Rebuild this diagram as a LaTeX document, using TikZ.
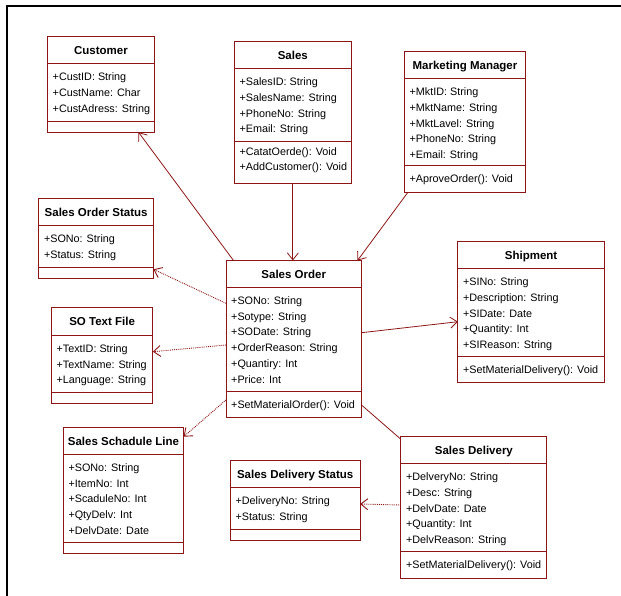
\documentclass[tikz,border=0pt]{standalone}
\usepackage{fontspec}
\setmainfont{Liberation Sans}
\usetikzlibrary{arrows.meta,calc}

\definecolor{umlred}{RGB}{140,22,22}

\tikzset{
  classbox/.style={draw=umlred, line width=0.9pt, fill=white, inner sep=0pt, outer sep=0pt},
  classrule/.style={draw=umlred, line width=0.9pt},
  classtitle/.style={font=\fontsize{11.5}{13}\selectfont\bfseries, inner sep=0pt, anchor=base},
  members/.style={font=\fontsize{10.8}{15.7}\selectfont, align=left, inner sep=0pt,
                  anchor=north west, execute at begin node={\strut}},
  assoc/.style={draw=umlred, line width=0.8pt, -{Straight Barb[length=7pt,width=11pt]}},
  link/.style={draw=umlred, line width=0.8pt},
  depend/.style={draw=umlred, line width=0.9pt, densely dotted, -{Straight Barb[length=7pt,width=11pt]}},
  frameline/.style={draw=black, line width=2.8pt},
}

% #1 name, #2 top-left corner, #3 width, #4 height,
% #5 depth of the title rule, #6 depth of the operations rule,
% #7 class name, #8 attributes, #9 operations
\newcommand{\umlclass}[9]{%
  \node[classbox, minimum width=#3pt, minimum height=#4pt, anchor=north west] (#1) at #2 {};
  \draw[classrule] ([yshift=-#5pt]#1.north west) -- ([yshift=-#5pt]#1.north east);
  \draw[classrule] ([yshift=-#6pt]#1.north west) -- ([yshift=-#6pt]#1.north east);
  \node[classtitle] (#1-title) at ([yshift={-#5pt/2-4.5pt}]#1.north) {#7};
  \node[members] (#1-attr) at ([xshift=5pt, yshift={-#5pt-9.5pt}]#1.north west) {#8};
  \node[members] (#1-ops) at ([xshift=5pt, yshift={-#6pt-6pt}]#1.north west) {#9};
}

\begin{document}
\begin{tikzpicture}[x=1pt, y=-1pt]
\useasboundingbox (0,0) rectangle (621,595);

% outer frame (only its top and left edges fall inside the page)
\coordinate (frame-bl) at (7,605);
\coordinate (frame-tl) at (7,6);
\coordinate (frame-tr) at (630,6);
\draw[frameline] (frame-bl) -- (frame-tl) -- (frame-tr);

\umlclass{cust}{(47.5,36.7)}{107}{95.5}{26.6}{84.3}{Customer}
  {+CustID: String\\+CustName: Char\\+CustAdress: String}{}
\umlclass{sales}{(234.3,41.7)}{117.1}{141.6}{26.6}{99.3}{Sales}
  {+SalesID: String\\+SalesName: String\\+PhoneNo: String\\+Email: String}
  {+CatatOerde(): Void\\+AddCustomer(): Void}
\umlclass{mm}{(404.4,51)}{121.1}{141.7}{27.3}{114.7}{Marketing Manager}
  {+MktID: String\\+MktName: String\\+MktLavel: String\\+PhoneNo: String\\+Email: String}
  {+AproveOrder(): Void}
\umlclass{sos}{(38.8,198.3)}{114.7}{80}{26.7}{69}{Sales Order Status}
  {+SONo: String\\+Status: String}{}
\umlclass{so}{(226,260.5)}{135.5}{156.5}{26.5}{130.5}{Sales Order}
  {+SONo: String\\+Sotype: String\\+SODate: String\\+OrderReason: String\\+Quantiry: Int\\+Price: Int}
  {+SetMaterialOrder(): Void}
\umlclass{ship}{(457.9,241.7)}{146.4}{141}{26.6}{114.3}{Shipment}
  {+SINo: String\\+Description: String\\+SIDate: Date\\+Quantity: Int\\+SIReason: String}
  {+SetMaterialDelivery(): Void}
\umlclass{sotf}{(51.4,307.7)}{101.4}{95.6}{27.3}{85}{SO Text File}
  {+TextID: String\\+TextName: String\\+Language: String}{}
\umlclass{ssl}{(63.3,427.3)}{120.3}{126}{26.7}{115}{Sales Schadule Line}
  {+SONo: String\\+ItemNo: Int\\+ScaduleNo: Int\\+QtyDelv: Int\\+DelvDate: Date}{}
\umlclass{sds}{(230.3,460.7)}{129.8}{79.3}{26.6}{68.3}{Sales Delivery Status}
  {+DeliveryNo: String\\+Status: String}{}
\umlclass{sd}{(400.9,436.7)}{146}{141.6}{26.6}{115}{Sales Delivery}
  {+DelveryNo: String\\+Desc: String\\+DelvDate: Date\\+Quantity: Int\\+DelvReason: String}
  {+SetMaterialDelivery(): Void}

% associations
\draw[assoc] ([xshift=7.5pt]so.north west) -- ([xshift=91pt]cust.south west);
\draw[assoc] (sales.south) -- (sales.south |- so.north);
\draw[assoc] ([xshift=3.2pt]mm.south west) -- ([xshift=-4pt]so.north east);
\draw[assoc] ([yshift=-72.2pt]so.north east) -- ([yshift=-80pt]ship.north west);
\draw[link] ([yshift=-144.5pt]so.north east) -- ([yshift=-2.6pt]sd.north west);

% dependencies
\draw[depend] ([yshift=-42.8pt]so.north west) -- ([yshift=9pt]sos.south east);
\draw[depend] ([yshift=-84.5pt]so.north west) -- ([yshift=-44pt]sotf.north east);
\draw[depend] ([yshift=-139.5pt]so.north west) -- ([yshift=-9.4pt]ssl.north east);
\draw[depend] ([yshift=-68.3pt]sd.north west) -- ([yshift=-43.3pt]sds.north east);
\end{tikzpicture}
\end{document}
